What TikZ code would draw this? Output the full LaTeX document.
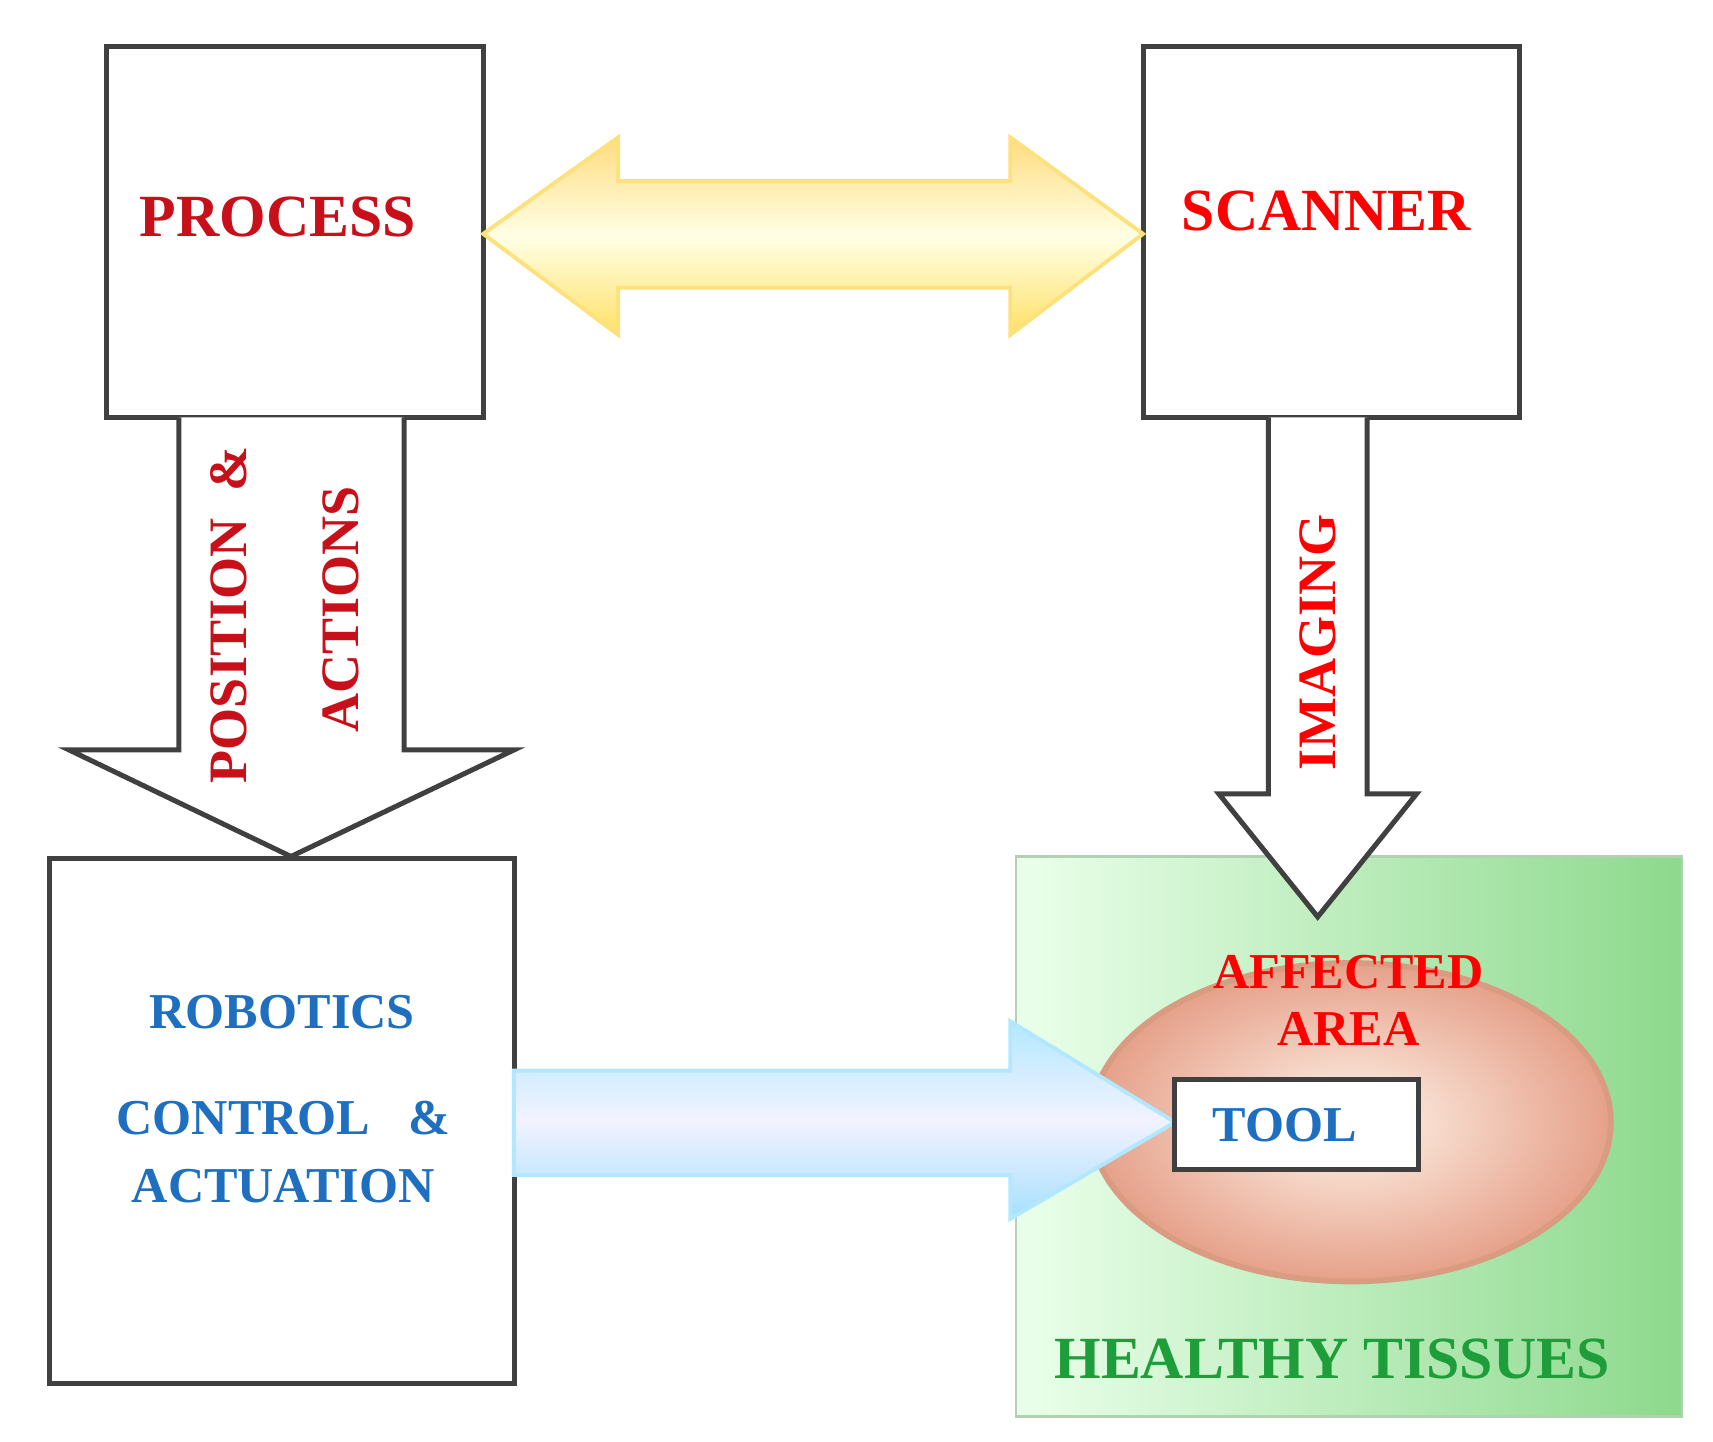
\documentclass[tikz,border=0pt]{standalone}
\usepackage{fontspec}
\setmainfont{Liberation Serif}
\usetikzlibrary{shadings}
\definecolor{dred}{HTML}{C8101A}
\definecolor{lblue}{HTML}{1F6FC0}
\definecolor{hgreen}{HTML}{1E9E3A}
\tikzset{box/.style={draw=black!75,line width=1.3pt,fill=white,inner sep=0pt,outer sep=0pt},
  lab/.style={font=\bfseries\fontsize{15.5}{18}\selectfont,text=dred},
  blab/.style={font=\bfseries\fontsize{13}{16}\selectfont,text=lblue},
  rlab/.style={font=\bfseries\fontsize{14}{17}\selectfont,text=dred,rotate=90},
  varrow/.style={draw=black!75,line width=1.3pt,fill=white,line join=miter}}
\begin{document}
\begin{tikzpicture}[x=0.01cm,y=-0.01cm]
\useasboundingbox (0,0) rectangle (1560,1313);
% green area
\shade[left color=green!8!white,right color=green!35!white!85!black,draw=green!40!black!30,line width=0.6pt]
 (925,780) rectangle (1532,1290);
\node[font=\bfseries\fontsize{15.5}{18}\selectfont,text=hgreen] (ht) at (1213,1238) {HEALTHY TISSUES};
% ellipse
\shade[inner color=orange!8!white,outer color=orange!50!red!40!white!90!black,draw=orange!60!red!40!white!85!black,line width=1.5pt]
 (1230,1022) ellipse [x radius=237,y radius=145];
\node[font=\bfseries\fontsize{13}{16}\selectfont,text=red] (aff) at (1228,885) {AFFECTED};
\node[font=\bfseries\fontsize{13}{16}\selectfont,text=red] (area) at (1228,937) {AREA};
% boxes
\node[box,minimum width=3.43cm,minimum height=3.38cm,anchor=north west] (proc) at (97,42) {};
\node[lab,text=dred] at (253,198) {PROCESS};
\node[box,minimum width=3.43cm,minimum height=3.38cm,anchor=north west] (scan) at (1041,42) {};
\node[lab,text=red] at (1208,192) {SCANNER};
\node[box,minimum width=4.23cm,minimum height=4.78cm,anchor=north west] (rob) at (45,782) {};
\node[blab] at (257,922) {ROBOTICS};
\node[blab] at (258,1018) {CONTROL\ \ \ \&};
\node[blab] at (258,1080) {ACTUATION};
% yellow double arrow
\shade[top color=yellow!45!orange!50!white,bottom color=yellow!60!orange!60!white,middle color=yellow!10!white,draw=yellow!60!orange!50!white,line width=1pt]
 (440,213) -- (563,125) -- (563,165) -- (920,165) -- (920,125) -- (1041,213)
 -- (920,305) -- (920,262) -- (563,262) -- (563,305) -- cycle;
% blue arrow
\shade[top color=blue!30!cyan!30!white,bottom color=blue!35!cyan!35!white,middle color=blue!5!white,draw=blue!30!cyan!30!white,line width=1pt]
 (468,975) -- (920,975) -- (920,930) -- (1070,1022) -- (920,1110) -- (920,1070) -- (468,1070) -- cycle;
\node[box,minimum width=2.22cm,minimum height=0.82cm,anchor=north west] (tool) at (1070,983) {};
\node[blab] at (1170,1025) {TOOL};
% down arrows
\draw[varrow] (163,380) -- (163,683) -- (63,683) -- (265,780) -- (468,683) -- (368,683) -- (368,380);
\node[rlab] at (208,560) {POSITION\ \ \&};
\node[rlab] at (310,555) {ACTIONS};
\draw[varrow] (1155,380) -- (1155,723) -- (1110,723) -- (1200,835) -- (1290,723) -- (1245,723) -- (1245,380);
\node[rlab,text=red] at (1200,585) {IMAGING};
\end{tikzpicture}
\end{document}
